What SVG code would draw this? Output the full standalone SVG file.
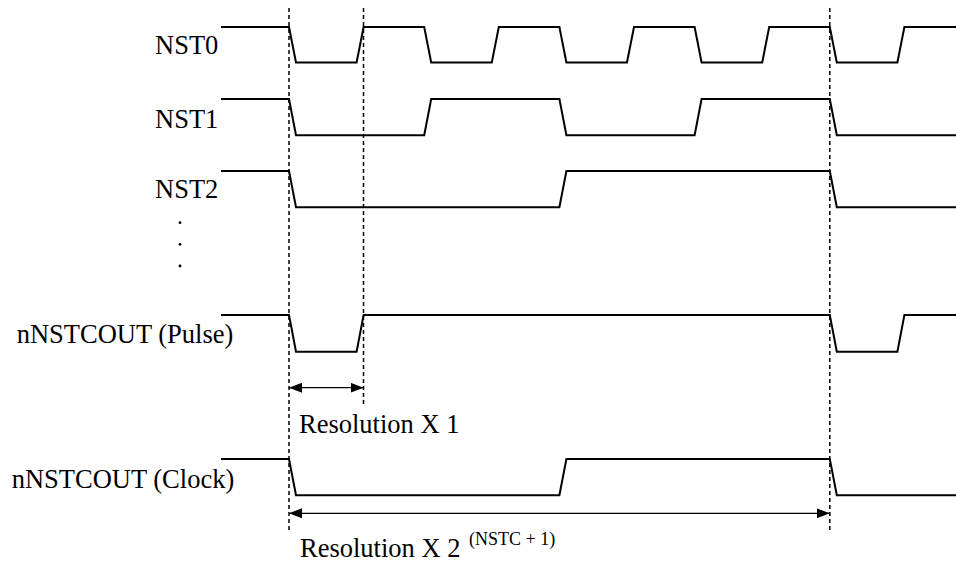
<svg xmlns="http://www.w3.org/2000/svg" width="956" height="563" viewBox="0 0 956 563">
<style>
.sig{fill:none;stroke:#000;stroke-width:2;stroke-linejoin:miter}
.dash{fill:none;stroke:#000;stroke-width:1.5;stroke-dasharray:4 3}
.dim{fill:none;stroke:#000;stroke-width:1.3}
.lbl{font-family:"Liberation Serif","Times New Roman",serif;font-size:26.5px;fill:#000}
.sup{font-family:"Liberation Serif","Times New Roman",serif;font-size:18px;fill:#000}
</style>
<defs>
<marker id="ah" viewBox="0 0 13 10" refX="13" refY="5" markerWidth="13" markerHeight="10" markerUnits="userSpaceOnUse" orient="auto-start-reverse">
<path d="M0,0 L13,5 L0,10 Z" fill="#000"/>
</marker>
</defs>
<rect width="956" height="563" fill="#fff"/>
<g id="nst0">
<text class="lbl" x="155" y="54">NST0</text>
<path class="sig" d="M221,27 H289 L296,62.5 H356.6 L363.6,27 H424.2 L431.2,62.5 H491.8 L498.8,27 H559.4 L566.4,62.5 H627 L634,27 H694.6 L701.6,62.5 H762.2 L769.2,27 H829.8 L836.8,62.5 H897.4 L904.4,27 H956"/>
</g>
<g id="nst1">
<text class="lbl" x="155" y="127.5">NST1</text>
<path class="sig" d="M221,99 H289 L296,135.3 H424.2 L431.2,99 H559.4 L566.4,135.3 H694.6 L701.6,99 H829.8 L836.8,135.3 H956"/>
</g>
<g id="nst2">
<text class="lbl" x="155" y="197.5">NST2</text>
<path class="sig" d="M221,171 H289 L296,207.3 H559.4 L566.4,171 H829.8 L836.8,207.3 H956"/>
</g>
<g id="ellipsis">
<circle cx="180" cy="222.7" r="1.4" fill="#000"/>
<circle cx="180" cy="244.3" r="1.4" fill="#000"/>
<circle cx="180" cy="266" r="1.4" fill="#000"/>
</g>
<g id="pulse">
<text class="lbl" x="16.7" y="342.7">nNSTCOUT (Pulse)</text>
<path class="sig" d="M221,315 H289 L296,351.7 H356.6 L363.6,315 H829.8 L836.8,351.7 H897.4 L904.4,315 H956"/>
</g>
<g id="clock">
<text class="lbl" x="11.7" y="488">nNSTCOUT (Clock)</text>
<path class="sig" d="M221,459 H289 L296,495.3 H559.4 L566.4,459 H829.8 L836.8,495.3 H956"/>
</g>
<g id="connectors">
<line class="dash" x1="289" y1="8" x2="289" y2="532"/>
<line class="dash" x1="363.5" y1="8" x2="363.5" y2="404"/>
<line class="dash" x1="829.8" y1="8" x2="829.8" y2="532"/>
<line class="dim" x1="289" y1="387.7" x2="363.5" y2="387.7" marker-start="url(#ah)" marker-end="url(#ah)"/>
<line class="dim" x1="289" y1="513.3" x2="829.8" y2="513.3" marker-start="url(#ah)" marker-end="url(#ah)"/>
</g>
<g id="res1">
<text class="lbl" x="299" y="433.3">Resolution X 1</text>
</g>
<g id="res2">
<text class="lbl" x="300" y="557.3">Resolution X 2 <tspan class="sup" dx="2" dy="-12">(NSTC + 1)</tspan></text>
</g>
</svg>
